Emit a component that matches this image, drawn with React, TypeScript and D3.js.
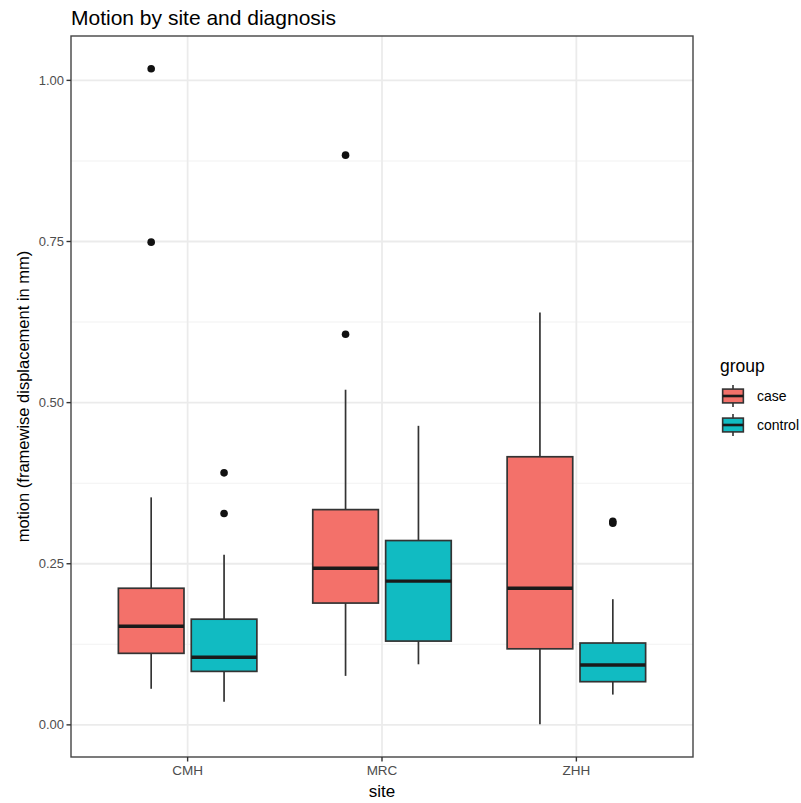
import * as d3 from "d3";

const sites = ["CMH", "MRC", "ZHH"];
const groups = ["case", "control"];
const groupColors = ["#F3716A", "#11BBC2"];

// [site][group]
const lowerWhisker = [
  [0.056, 0.036],
  [0.076, 0.094],
  [0.001, 0.047],
];
const q1 = [
  [0.111, 0.083],
  [0.189, 0.130],
  [0.118, 0.067],
];
const medians = [
  [0.153, 0.105],
  [0.243, 0.223],
  [0.212, 0.093],
];
const q3 = [
  [0.212, 0.164],
  [0.334, 0.286],
  [0.416, 0.127],
];
const upperWhisker = [
  [0.353, 0.264],
  [0.520, 0.464],
  [0.640, 0.195],
];
const outliers = [
  [[0.749, 1.018], [0.328, 0.391]],
  [[0.606, 0.884], []],
  [[], [0.313, 0.316]],
];

const yTicks = [0, 0.25, 0.5, 0.75, 1.0];
const yMinor = [0.125, 0.375, 0.625, 0.875];

const W = 801;
const H = 803;
const panel = { left: 71, right: 693, top: 36, bottom: 757 };
const font = "'Liberation Sans', Arial, Helvetica, sans-serif";

export default function App() {
  const allVals = [
    ...lowerWhisker.flat(),
    ...upperWhisker.flat(),
    ...outliers.flat(2),
  ];
  const lo = d3.min(allVals) ?? 0;
  const hi = d3.max(allVals) ?? 1;
  const pad = (hi - lo) * 0.05;
  const y = d3
    .scaleLinear()
    .domain([lo - pad, hi + pad])
    .range([panel.bottom, panel.top]);
  const x = d3
    .scalePoint<string>()
    .domain(sites)
    .range([panel.left, panel.right])
    .padding(0.6);
  const step = x.step();
  const dodge = step * 0.1875;
  const boxW = step * 0.3375;

  const boxes: any[] = [];
  sites.forEach((s, si) => {
    groups.forEach((g, gi) => {
      const cx = (x(s) ?? 0) + (gi === 0 ? -dodge : dodge);
      boxes.push({ si, gi, cx });
    });
  });

  const key = 27.6;

  return (
    <svg
      width={W}
      height={H}
      style={{ position: "absolute", left: 0, top: 0, background: "#fff" }}
      fontFamily={font}
    >
      <rect x={0} y={0} width={W} height={H} fill="#fff" />
      {/* minor grid */}
      {yMinor.map((v) => (
        <line
          key={"mn" + v}
          x1={panel.left}
          x2={panel.right}
          y1={y(v)}
          y2={y(v)}
          stroke="#f2f2f2"
          strokeWidth={1.1}
        />
      ))}
      {/* major grid */}
      {yTicks.map((v) => (
        <line
          key={"mj" + v}
          x1={panel.left}
          x2={panel.right}
          y1={y(v)}
          y2={y(v)}
          stroke="#ebebeb"
          strokeWidth={1.8}
        />
      ))}
      {sites.map((s) => (
        <line
          key={"vx" + s}
          x1={x(s)}
          x2={x(s)}
          y1={panel.top}
          y2={panel.bottom}
          stroke="#ebebeb"
          strokeWidth={1.8}
        />
      ))}

      {/* boxes */}
      {boxes.map(({ si, gi, cx }) => (
        <g key={`b${si}${gi}`}>
          <line
            x1={cx}
            x2={cx}
            y1={y(upperWhisker[si][gi])}
            y2={y(q3[si][gi])}
            stroke="#333"
            strokeWidth={1.7}
          />
          <line
            x1={cx}
            x2={cx}
            y1={y(q1[si][gi])}
            y2={y(lowerWhisker[si][gi])}
            stroke="#333"
            strokeWidth={1.7}
          />
          <rect
            x={cx - boxW / 2}
            y={y(q3[si][gi])}
            width={boxW}
            height={y(q1[si][gi]) - y(q3[si][gi])}
            fill={groupColors[gi]}
            stroke="#333"
            strokeWidth={1.7}
          />
          <line
            x1={cx - boxW / 2}
            x2={cx + boxW / 2}
            y1={y(medians[si][gi])}
            y2={y(medians[si][gi])}
            stroke="#1a1a1a"
            strokeWidth={3.4}
          />
          {outliers[si][gi].map((v, i) => (
            <circle key={i} cx={cx} cy={y(v)} r={3.8} fill="#111" />
          ))}
        </g>
      ))}

      {/* panel border */}
      <rect
        x={panel.left}
        y={panel.top}
        width={panel.right - panel.left}
        height={panel.bottom - panel.top}
        fill="none"
        stroke="#444"
        strokeWidth={1.4}
      />

      {/* y axis */}
      {yTicks.map((v) => (
        <g key={"yt" + v}>
          <line
            x1={panel.left - 4.5}
            x2={panel.left}
            y1={y(v)}
            y2={y(v)}
            stroke="#333"
            strokeWidth={1.4}
          />
          <text
            x={panel.left - 7}
            y={y(v)}
            dy="0.35em"
            textAnchor="end"
            fontSize={13}
            fill="#4d4d4d"
          >
            {d3.format(".2f")(v)}
          </text>
        </g>
      ))}
      {/* x axis */}
      {sites.map((s) => (
        <g key={"xt" + s}>
          <line
            x1={x(s)}
            x2={x(s)}
            y1={panel.bottom}
            y2={panel.bottom + 4.5}
            stroke="#333"
            strokeWidth={1.4}
          />
          <text
            x={x(s)}
            y={panel.bottom + 18}
            textAnchor="middle"
            fontSize={13.5}
            fill="#4d4d4d"
          >
            {s}
          </text>
        </g>
      ))}

      <text
        x={(panel.left + panel.right) / 2}
        y={797}
        textAnchor="middle"
        fontSize={17}
        fill="#000"
      >
        site
      </text>
      <text
        transform={`translate(29,${(panel.top + panel.bottom) / 2}) rotate(-90)`}
        textAnchor="middle"
        fontSize={16.5}
        fill="#000"
      >
        motion (framewise displacement in mm)
      </text>
      <text x={panel.left} y={25} fontSize={21} fill="#000">
        Motion by site and diagnosis
      </text>

      {/* legend */}
      <text x={720} y={372} fontSize={17.5} fill="#000">
        group
      </text>
      {groups.map((g, i) => {
        const cy = 396 + i * 29;
        const kx = 719.2;
        const ky = cy - key / 2;
        return (
          <g key={g}>
            <line
              x1={kx + key / 2}
              x2={kx + key / 2}
              y1={ky + key * 0.1}
              y2={ky + key * 0.9}
              stroke="#333"
              strokeWidth={1.6}
            />
            <rect
              x={kx + key * 0.125}
              y={ky + key * 0.25}
              width={key * 0.75}
              height={key * 0.5}
              fill={groupColors[i]}
              stroke="#333"
              strokeWidth={1.6}
            />
            <line
              x1={kx + key * 0.125}
              x2={kx + key * 0.875}
              y1={cy}
              y2={cy}
              stroke="#1a1a1a"
              strokeWidth={2.6}
            />
            <text x={757} y={cy} dy="0.35em" fontSize={14} fill="#000">
              {g}
            </text>
          </g>
        );
      })}
    </svg>
  );
}
